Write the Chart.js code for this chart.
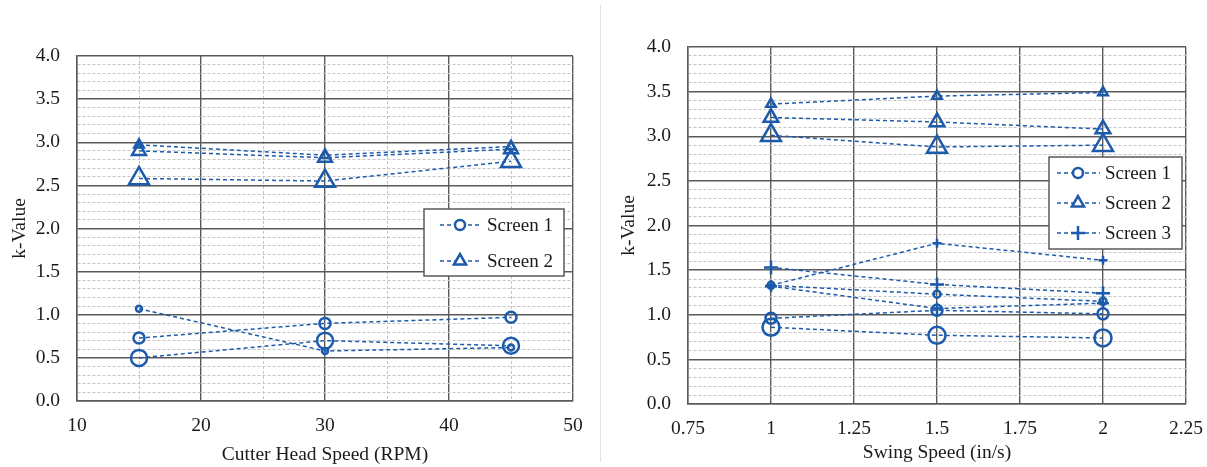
<!DOCTYPE html>
<html>
<head>
<meta charset="utf-8">
<script src="https://cdn.jsdelivr.net/npm/chart.js@4.4.0/dist/chart.umd.min.js"></script>
<style>
  html, body { margin: 0; padding: 0; background: #fff; }
  .wrap { position: absolute; top: 0; height: 467px; }
  #leftWrap { left: 0; width: 600px; }
  #rightWrap { left: 600px; width: 607px; }
  #sep { position: absolute; left: 600px; top: 5px; width: 1px; height: 457px; background: #e2e2e2; }
</style>
</head>
<body>
<div class="wrap" id="leftWrap"><canvas id="rpmChart" width="600" height="467"></canvas></div>
<div id="sep"></div>
<div class="wrap" id="rightWrap"><canvas id="swingChart" width="607" height="467"></canvas></div>
<script>
// Valores (k-Value)
const rpmSpeeds = [15, 30, 45];
const rpmScreen1Small = [1.07, 0.58, 0.62];
const rpmScreen1Mid = [0.73, 0.90, 0.97];
const rpmScreen1Large = [0.50, 0.70, 0.64];
const rpmScreen2Small = [2.97, 2.85, 2.95];
const rpmScreen2Mid = [2.90, 2.82, 2.92];
const rpmScreen2Large = [2.58, 2.55, 2.78];

const swingSpeeds = [1, 1.5, 2];
const swingScreen1Small = [1.33, 1.23, 1.15];
const swingScreen1Mid = [0.96, 1.05, 1.01];
const swingScreen1Large = [0.86, 0.77, 0.74];
const swingScreen2Small = [3.36, 3.45, 3.49];
const swingScreen2Mid = [3.21, 3.16, 3.08];
const swingScreen2Large = [3.01, 2.88, 2.90];
const swingScreen3Small = [1.33, 1.80, 1.61];
const swingScreen3Mid = [1.32, 1.07, 1.13];
const swingScreen3Large = [1.53, 1.34, 1.24];

const legendLabels = ["Screen 1", "Screen 2", "Screen 3"];
const yAxisTitle = "k-Value";
const rpmAxisTitle = "Cutter Head Speed (RPM)";
const swingAxisTitle = "Swing Speed (in/s)";

const BLUE = "#1c5aab";
const MAJOR = "#5a5a5a";
const MINOR = "#c4c4c4";
const FONT = "'Liberation Serif', 'Times New Roman', serif";
const FONT_SIZE = 19.5;

const isMultiple = (v, step) => Math.abs(v / step - Math.round(v / step)) < 1e-6;

function series(xs, ys, style, radius) {
    return {
        data: xs.map((x, i) => ({ x: x, y: ys[i] })),
        showLine: true,
        borderColor: BLUE,
        borderWidth: 1.5,
        borderDash: [4, 3],
        pointStyle: style,
        pointRadius: radius,
        pointHoverRadius: radius,
        pointBorderColor: BLUE,
        pointBackgroundColor: "rgba(0,0,0,0)",
        pointBorderWidth: 2.5,
        fill: false
    };
}

// Legenda desenhada dentro da área do gráfico, com caixa e borda.
const boxLegend = {
    id: "boxLegend",
    afterDraw(chart, args, opts) {
        const { ctx, chartArea } = chart;
        const left = chartArea.right - opts.right - opts.width;
        const top = chartArea.top + opts.top;
        ctx.save();
        ctx.fillStyle = "#fff";
        ctx.fillRect(left, top, opts.width, opts.height);
        ctx.strokeStyle = MAJOR;
        ctx.lineWidth = 1.5;
        ctx.strokeRect(left, top, opts.width, opts.height);
        opts.items.forEach((item, i) => {
            const y = top + opts.firstRow + i * opts.rowGap;
            ctx.strokeStyle = BLUE;
            ctx.lineWidth = 1.5;
            ctx.setLineDash([4, 3]);
            ctx.beginPath();
            ctx.moveTo(left + opts.lineStart, y);
            ctx.lineTo(left + opts.lineEnd, y);
            ctx.stroke();
            ctx.setLineDash([]);
            ctx.fillStyle = "#fff";
            ctx.lineWidth = 2.5;
            Chart.helpers.drawPoint(ctx, { pointStyle: item.style, radius: item.radius, borderWidth: 2.5, rotation: 0 }, left + opts.marker, y);
            ctx.fillStyle = "#1a1a1a";
            ctx.font = "19px " + FONT;
            ctx.textAlign = "left";
            ctx.textBaseline = "middle";
            ctx.fillText(item.label, left + opts.textX, y + 1);
        });
        ctx.restore();
    }
};

function noScalePadding(s) {
    s.paddingLeft = 0;
    s.paddingRight = 0;
    s.paddingTop = 0;
    s.paddingBottom = 0;
}

function axisOptions(cfg) {
    return {
        x: {
            type: "linear",
            min: cfg.xMin,
            max: cfg.xMax,
            afterFit: s => { s.height = cfg.xHeight; noScalePadding(s); },
            ticks: {
                stepSize: cfg.xStep,
                autoSkip: false,
                maxRotation: 0,
                padding: 13,
                color: "#1a1a1a",
                font: { family: FONT, size: FONT_SIZE },
                callback: v => isMultiple(v, cfg.xLabelStep) ? String(Math.round(v * 100) / 100) : ""
            },
            grid: {
                drawTicks: false,
                color: c => (c.tick && !isMultiple(c.tick.value, cfg.xLabelStep)) ? MINOR : MAJOR,
                lineWidth: c => (c.tick && !isMultiple(c.tick.value, cfg.xLabelStep)) ? 1 : 1.4
            },
            border: {
                color: MAJOR,
                width: 1.5,
                dash: c => (c.tick && !isMultiple(c.tick.value, cfg.xLabelStep)) ? [3, 2] : []
            },
            title: {
                display: true,
                text: cfg.xTitle,
                color: "#1a1a1a",
                font: { family: FONT, size: FONT_SIZE },
                padding: { top: 0, bottom: cfg.xTitlePad }
            }
        },
        y: {
            type: "linear",
            min: 0,
            max: 4,
            afterFit: s => { s.width = cfg.yWidth; noScalePadding(s); },
            ticks: {
                stepSize: 0.1,
                autoSkip: false,
                padding: 17,
                color: "#1a1a1a",
                font: { family: FONT, size: FONT_SIZE },
                callback: v => isMultiple(v, 0.5) ? v.toFixed(1) : ""
            },
            grid: {
                drawTicks: false,
                color: c => (c.tick && !isMultiple(c.tick.value, 0.5)) ? MINOR : MAJOR,
                lineWidth: c => (c.tick && !isMultiple(c.tick.value, 0.5)) ? 1 : 1.4
            },
            border: {
                color: MAJOR,
                width: 1.5,
                dash: c => (c.tick && !isMultiple(c.tick.value, 0.5)) ? [3, 2] : []
            },
            title: {
                display: true,
                text: yAxisTitle,
                color: "#1a1a1a",
                font: { family: FONT, size: FONT_SIZE },
                padding: { top: cfg.yTitlePad, bottom: 0 }
            }
        }
    };
}

Chart.register(boxLegend);

new Chart(document.getElementById("rpmChart"), {
    type: "scatter",
    data: {
        datasets: [
            series(rpmSpeeds, rpmScreen1Small, "circle", 3),
            series(rpmSpeeds, rpmScreen1Mid, "circle", 5.5),
            series(rpmSpeeds, rpmScreen1Large, "circle", 8),
            series(rpmSpeeds, rpmScreen2Small, "triangle", 5.5),
            series(rpmSpeeds, rpmScreen2Mid, "triangle", 8),
            series(rpmSpeeds, rpmScreen2Large, "triangle", 11.5)
        ]
    },
    options: {
        responsive: false,
        animation: false,
        layout: { padding: { left: 0, top: 56, right: 27, bottom: 0 } },
        scales: axisOptions({ xMin: 10, xMax: 50, xStep: 5, xLabelStep: 10, xHeight: 66, yWidth: 77, xTitle: rpmAxisTitle, xTitlePad: 0, yTitlePad: 8 }),
        plugins: {
            legend: { display: false },
            tooltip: { enabled: false },
            boxLegend: {
                right: 9, top: 153, width: 140, height: 67,
                firstRow: 16, rowGap: 36, lineStart: 16, lineEnd: 58, marker: 36, textX: 63,
                items: [
                    { label: legendLabels[0], style: "circle", radius: 5 },
                    { label: legendLabels[1], style: "triangle", radius: 7 }
                ]
            }
        }
    }
});

new Chart(document.getElementById("swingChart"), {
    type: "scatter",
    data: {
        datasets: [
            series(swingSpeeds, swingScreen1Small, "circle", 3.5),
            series(swingSpeeds, swingScreen1Mid, "circle", 5.5),
            series(swingSpeeds, swingScreen1Large, "circle", 8.5),
            series(swingSpeeds, swingScreen2Small, "triangle", 5.5),
            series(swingSpeeds, swingScreen2Mid, "triangle", 8.5),
            series(swingSpeeds, swingScreen2Large, "triangle", 11.5),
            series(swingSpeeds, swingScreen3Small, "cross", 4.5),
            series(swingSpeeds, swingScreen3Mid, "cross", 6),
            series(swingSpeeds, swingScreen3Large, "cross", 7)
        ]
    },
    options: {
        responsive: false,
        animation: false,
        layout: { padding: { left: 0, top: 47, right: 21, bottom: 0 } },
        scales: axisOptions({ xMin: 0.75, xMax: 2.25, xStep: 0.25, xLabelStep: 0.25, xHeight: 63, yWidth: 88, xTitle: swingAxisTitle, xTitlePad: 2, yTitlePad: 17 }),
        plugins: {
            legend: { display: false },
            tooltip: { enabled: false },
            boxLegend: {
                right: 4, top: 110, width: 133, height: 92,
                firstRow: 16, rowGap: 30, lineStart: 8, lineEnd: 51, marker: 29, textX: 56,
                items: [
                    { label: legendLabels[0], style: "circle", radius: 5 },
                    { label: legendLabels[1], style: "triangle", radius: 7 },
                    { label: legendLabels[2], style: "cross", radius: 7 }
                ]
            }
        }
    }
});
</script>
</body>
</html>
